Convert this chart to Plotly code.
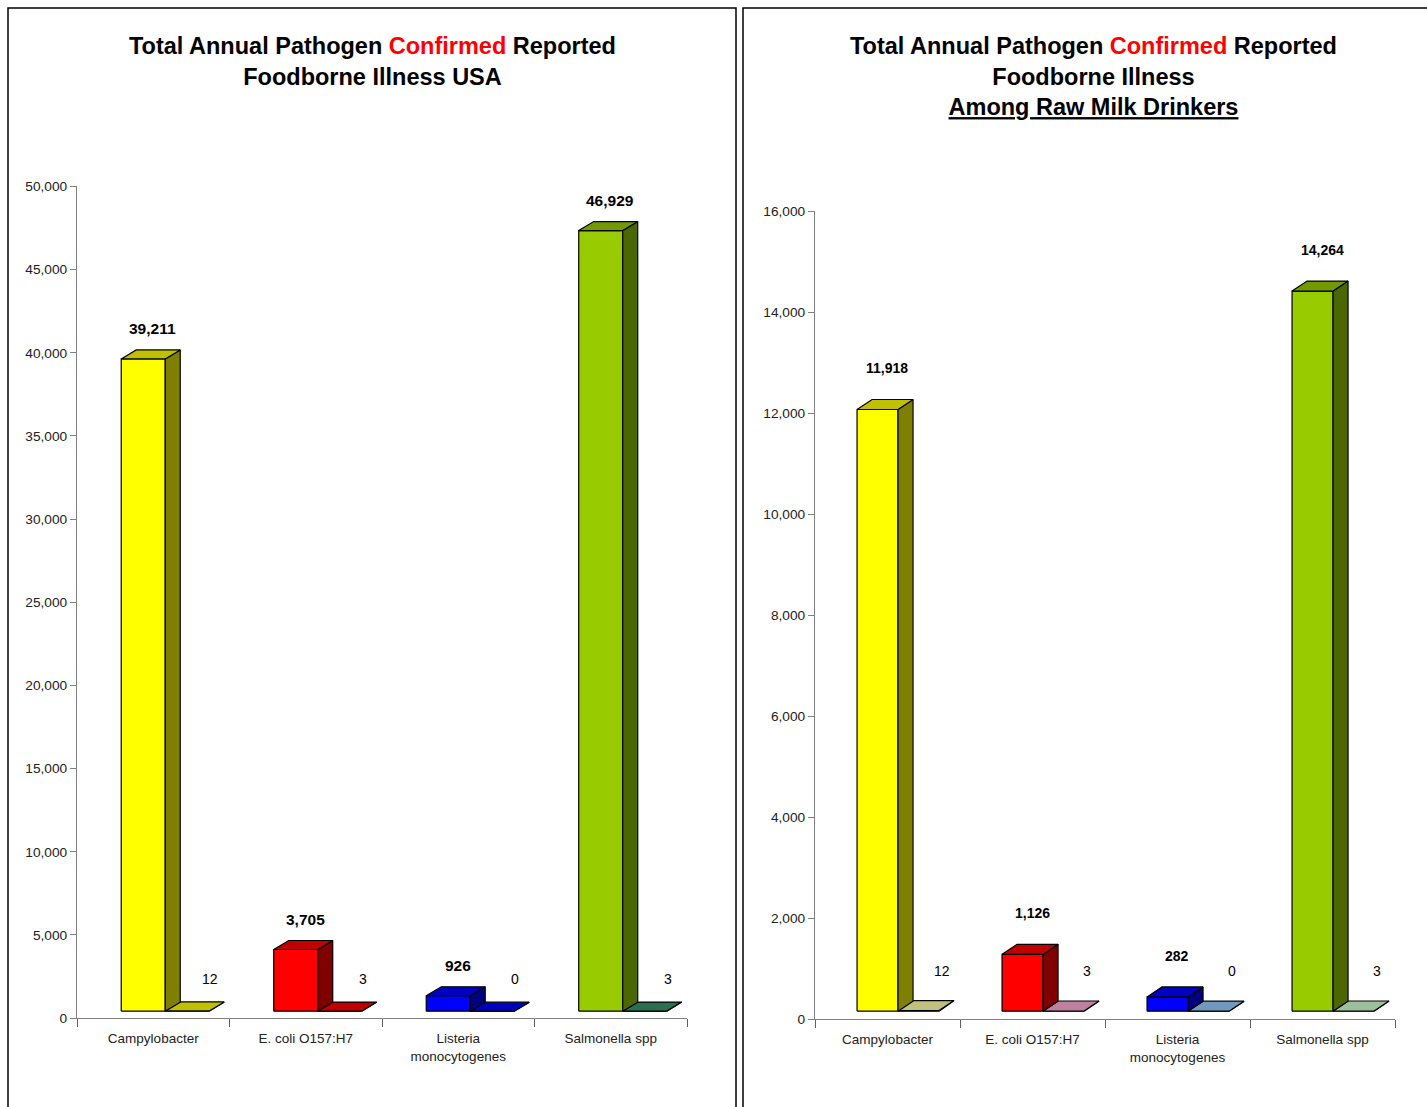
import plotly.graph_objects as go

# ---------------- data ----------------
categories = ["Campylobacter", "E. coli O157:H7", "Listeria<br>monocytogenes", "Salmonella spp"]
usa_confirmed = [39211, 3705, 926, 46929]
usa_second = [12, 3, 0, 3]
raw_confirmed = [11918, 1126, 282, 14264]
raw_second = [12, 3, 0, 3]
usa_ticks = [0, 5000, 10000, 15000, 20000, 25000, 30000, 35000, 40000, 45000, 50000]
raw_ticks = [0, 2000, 4000, 6000, 8000, 10000, 12000, 14000, 16000]

# ---------------- style ----------------
front_colors = ["#FFFF00", "#FF0000", "#0000FF", "#99CC00"]
top_colors = ["#C0C000", "#C00000", "#0000C0", "#739900"]
side_colors = ["#808000", "#800000", "#000080", "#4C6600"]
usa_second_colors = ["#C0C000", "#C00000", "#0000C0", "#2E6E50"]
raw_second_colors = ["#C0C080", "#C080A0", "#7099C0", "#9CC09C"]

W, H = 1427, 1107
FONT = "Liberation Sans, Arial, sans-serif"

# screen -> layout vertical correction (observed rendering offset/scale)
VS, VO = 0.9868, 6.5


def LY(y_screen):
    return (y_screen - VO) / VS


panels = [
    dict(xa="x", ya="y", xpx=(77, 687), ypx=(1018, 186), ymax=50000,
         total=usa_confirmed, second=usa_second, second_colors=usa_second_colors,
         ticks=usa_ticks, bar_px=44, base_px=7, dx_px=15, dy_px=9,
         vfont=15.5, vshift=11, sfont=14, sshift=13,
         title="<b>Total Annual Pathogen <span style='color:#FF0000'>Confirmed</span> Reported<br>Foodborne Illness USA</b>",
         title_xy=(372, 61.5)),
    dict(xa="x2", ya="y2", xpx=(815, 1395), ypx=(1019, 211), ymax=16000,
         total=raw_confirmed, second=raw_second, second_colors=raw_second_colors,
         ticks=raw_ticks, bar_px=41, base_px=8, dx_px=15, dy_px=10,
         vfont=14, vshift=21, sfont=14, sshift=20,
         title="<b>Total Annual Pathogen <span style='color:#FF0000'>Confirmed</span> Reported<br>Foodborne Illness<br><u>Among Raw Milk Drinkers</u></b>",
         title_xy=(1093, 76.5)),
]

fig = go.Figure()
annotations = []


def poly(xs, ys, color, xa, ya):
    fig.add_trace(go.Scatter(
        x=xs + [xs[0]], y=ys + [ys[0]], mode="lines", fill="toself",
        fillcolor=color, line=dict(color="#000000", width=1.2),
        xaxis=xa, yaxis=ya, hoverinfo="skip", showlegend=False))


def box3d(x0, w, b, t, dx, dy, cf, ct, cs, xa, ya):
    poly([x0, x0 + w, x0 + w, x0], [b, b, t, t], cf, xa, ya)
    poly([x0 + w, x0 + w + dx, x0 + w + dx, x0 + w], [b, b + dy, t + dy, t], cs, xa, ya)
    poly([x0, x0 + w, x0 + w + dx, x0 + dx], [t, t, t + dy, t + dy], ct, xa, ya)


for p in panels:
    cat_px = (p["xpx"][1] - p["xpx"][0]) / len(categories)
    unit_per_px_y = p["ymax"] / (p["ypx"][0] - p["ypx"][1])
    w = p["bar_px"] / cat_px
    dx = p["dx_px"] / cat_px
    dy = p["dy_px"] * unit_per_px_y
    base = p["base_px"] * unit_per_px_y
    x_off = -0.5 + 0.29
    for i, (v, s) in enumerate(zip(p["total"], p["second"])):
        x0 = i + x_off
        x1 = x0 + w
        sc = p["second_colors"][i]
        box3d(x1, w, base, base + s, dx, dy, sc, sc, sc, p["xa"], p["ya"])
        box3d(x0, w, base, base + v, dx, dy, front_colors[i], top_colors[i], side_colors[i],
              p["xa"], p["ya"])
        annotations.append(dict(
            x=x0 + w / 2, y=base + v + dy, xref=p["xa"], yref=p["ya"],
            text="<b>{:,}</b>".format(v), showarrow=False, yanchor="bottom",
            xshift=p["dx_px"] / 2 + 2, yshift=p["vshift"],
            font=dict(family=FONT, size=p["vfont"], color="#000000")))
        annotations.append(dict(
            x=x1 + w / 2 + dx, y=base + s + dy, xref=p["xa"], yref=p["ya"],
            text="{:,}".format(s), showarrow=False, yanchor="bottom",
            xshift=8, yshift=p["sshift"],
            font=dict(family=FONT, size=p["sfont"], color="#000000")))
    annotations.append(dict(
        x=p["title_xy"][0] / W, y=1 - LY(p["title_xy"][1]) / H, xref="paper", yref="paper",
        text=p["title"], showarrow=False, xanchor="center", yanchor="middle",
        font=dict(family=FONT, size=23.5, color="#000000")))

axis_common = dict(showgrid=False, zeroline=False, showline=True, linecolor="#808080",
                   linewidth=1.2, tickcolor="#808080",
                   tickfont=dict(family=FONT, size=13.7, color="#222222"))

layout_axes = {}
for k, p in enumerate(panels):
    sfx = "" if k == 0 else "2"
    layout_axes["xaxis" + sfx] = dict(
        axis_common, domain=[p["xpx"][0] / W, p["xpx"][1] / W], range=[-0.5, len(categories) - 0.5],
        tickmode="array", tickvals=list(range(len(categories))), ticktext=categories,
        ticks="", anchor="y" + sfx, fixedrange=True, ticklabelstandoff=8,
        tickfont=dict(family=FONT, size=13.5, color="#222222"),
        minor=dict(tickmode="array", tickvals=[i - 0.5 for i in range(len(categories) + 1)],
                   ticks="outside", ticklen=8, tickcolor="#606060", tickwidth=1.2))
    layout_axes["yaxis" + sfx] = dict(
        axis_common, domain=[1 - LY(p["ypx"][0]) / H, 1 - LY(p["ypx"][1]) / H], range=[0, p["ymax"]],
        tickmode="array", tickvals=p["ticks"], tickformat=",", ticks="outside", ticklen=6,
        anchor="x" + sfx, fixedrange=True)

shapes = [
    dict(type="rect", xref="paper", yref="paper", x0=8 / W, x1=736 / W, y0=-0.05, y1=1 - 1 / H,
         line=dict(color="#000000", width=1.5), fillcolor="rgba(0,0,0,0)", layer="below"),
    dict(type="rect", xref="paper", yref="paper", x0=743 / W, x1=1.05, y0=-0.05, y1=1 - 1 / H,
         line=dict(color="#000000", width=1.5), fillcolor="rgba(0,0,0,0)", layer="below"),
]

fig.update_layout(
    width=W, height=H, margin=dict(l=0, r=0, t=0, b=0),
    paper_bgcolor="#FFFFFF", plot_bgcolor="#FFFFFF",
    showlegend=False, annotations=annotations, shapes=shapes,
    font=dict(family=FONT), **layout_axes)

post = (
    "var h=document.documentElement.style;h.margin='0';h.padding='0';h.overflow='hidden';"
    "var b=document.body.style;b.margin='0';b.padding='0';b.overflow='hidden';"
)
fig.write_html("out.html", config={"displayModeBar": False}, post_script=post)
